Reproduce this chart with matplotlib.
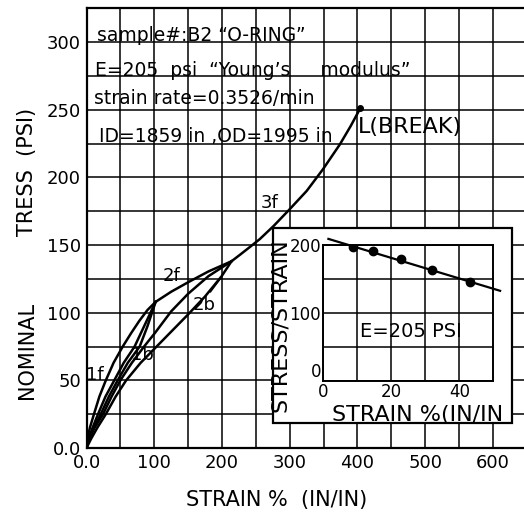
import matplotlib
matplotlib.use('Agg')
import matplotlib.pyplot as plt
import matplotlib.patches as mpatches
import numpy as np

W, H = 524, 514  # output size in pixels (dpi 100)

# ---- main hysteresis curves (strain %, nominal stress psi) ----
strain_1f = [0, 2, 5, 11, 19, 28.5, 40, 53.5, 66, 78, 90, 102]
stress_1f = [0, 8, 15, 25, 38, 50, 63, 75, 85, 94, 102, 108]
strain_1b = [0, 5, 11, 21, 33, 46, 61, 78.5, 90, 102]
stress_1b = [0, 8, 15, 25, 38, 50, 63, 75, 90, 108]
strain_2f = [0, 4, 9, 17, 28, 41, 55, 71, 86, 102, 125, 150, 180, 214]
stress_2f = [0, 8, 15, 25, 38, 50, 63, 75, 91, 108, 115.5, 122.5, 130.5, 138]
strain_2b = [0, 7, 16, 28.5, 43, 58.5, 80, 103.5, 127, 150.5, 175, 199.5, 214]
stress_2b = [0, 7, 15, 25, 38, 50, 63, 75, 87, 99, 112, 127, 138]
strain_3f = [0, 5, 12, 24.5, 37, 50, 67, 85, 101, 125, 150, 180, 214,
             227, 241, 256, 276, 299, 325, 349, 374, 390, 404]
stress_3f = [0, 8, 15, 25, 38, 50, 63, 75, 85, 101, 114, 127, 138,
             143, 148.5, 154.5, 164, 176, 190, 206, 224.4, 238, 251]
break_pt = (404, 251)

x_ticks = [0, 100, 200, 300, 400, 500, 600]
x_ticklabels = ['0.0', '100', '200', '300', '400', '500', '600']
y_ticks = [0, 50, 100, 150, 200, 250, 300]
y_ticklabels = ['0.0', '50', '100', '150', '200', '250', '300']

# ---- inset: stress/strain vs strain ----
inset_strain = [8.8, 14.7, 22.9, 32.1, 43.0]
inset_ratio = [197, 190.6, 179, 162.5, 145.4]
fit_strain = [1.5, 52]
fit_ratio = [209, 132.5]
inset_xticks = [0, 20, 40]
inset_yticks = [0, 100, 200]

notes = ['sample#:B2 \u201cO-RING\u201d',
         'E=205  psi  \u201cYoung\u2019s     modulus\u201d',
         'strain rate=0.3526/min',
         'ID=1859 in ,OD=1995 in']


def px(x, y):
    """pixel (from top-left) -> figure fraction"""
    return x / W, 1 - y / H


fig = plt.figure(figsize=(W / 100, H / 100), dpi=100)
ax = fig.add_axes([86.5 / W, 1 - 448 / H, (W - 86.5) / W, (448 - 8.3) / H])
ax.set_xlim(0, 645.8)
ax.set_ylim(0, 325)
ax.set_xticks(x_ticks)
ax.set_xticklabels(x_ticklabels)
ax.set_yticks(y_ticks)
ax.set_yticklabels(y_ticklabels)
ax.set_xticks(np.arange(50, 646, 100), minor=True)
ax.set_yticks(np.arange(25, 325, 50), minor=True)
ax.grid(which='both', color='black', lw=1.1)
ax.tick_params(which='both', length=0, labelsize=13, pad=4)
ax.spines['right'].set_visible(False)
for s in ('left', 'bottom', 'top'):
    ax.spines[s].set_linewidth(1.6)

for xs, ys in [(strain_1f, stress_1f), (strain_1b, stress_1b), (strain_2f, stress_2f),
               (strain_2b, stress_2b), (strain_3f, stress_3f)]:
    ax.plot(xs, ys, color='black', lw=1.8, zorder=3, solid_joinstyle='round')
ax.plot(*break_pt, 'o', color='black', ms=4, zorder=4)

lab = dict(fontsize=13, ha='center', va='center', zorder=5)
ax.text(13, 54, '1f', **lab)
ax.text(82, 69, '1b', **lab)
ax.text(126, 127, '2f', **lab)
ax.text(173, 106, '2b', **lab)
ax.text(270, 181, '3f', **lab)
ax.plot([183, 199.5], [115.5, 126.6], color='black', lw=1.2, zorder=3)
ax.text(401, 237, 'L(BREAK)', fontsize=16, ha='left', va='center', zorder=5)

# header notes sitting on the grid
for (xn, yn), t in zip([(15, 301), (13, 275), (11, 254), (18, 226)], notes):
    ax.text(xn, yn, t, fontsize=13.5, ha='left', va='baseline', zorder=5)

fig.text(*px(277, 500), 'STRAIN %  (IN/IN)', fontsize=15, ha='center', va='center')
fig.text(*px(27, 350), 'NOMINAL', fontsize=15, rotation=90, ha='center', va='center')
fig.text(*px(27, 172), 'TRESS  (PSI)', fontsize=15, rotation=90, ha='center', va='center')

# ---- inset ----
x0, y0 = px(272.7, 422.7)
box = mpatches.Rectangle((x0, y0), (511.7 - 272.7) / W, (422.7 - 228.3) / H,
                         transform=fig.transFigure, fc='white', ec='black', lw=1.6, zorder=1)
fig.add_artist(box)

ax2 = fig.add_axes([323.3 / W, 1 - 380.7 / H, 170 / W, 135.7 / H], zorder=2)
ax2.set_xlim(0, 50)
ax2.set_ylim(0, 200)
ax2.set_xticks(inset_xticks)
ax2.set_yticks(inset_yticks)
ax2.set_xticks([10, 30], minor=True)
ax2.set_yticks([50, 150], minor=True)
ax2.grid(which='both', color='black', lw=1.1)
ax2.tick_params(which='both', length=0, labelsize=12, pad=1.5)
ax2.get_yticklabels()[0].set_va('bottom')   # the "0" sits a little above the corner
for s in ax2.spines.values():
    s.set_linewidth(1.4)
ax2.plot(fit_strain, fit_ratio, color='black', lw=1.6, clip_on=False, zorder=3)
ax2.plot(inset_strain, inset_ratio, 'o', color='black', ms=6, zorder=4)
ax2.text(25.8, 72, 'E=205 PSI', fontsize=14, ha='center', va='center')

fig.text(*px(280, 325), 'STRESS/STRAIN', fontsize=16, rotation=90, ha='center', va='center', zorder=3)
fig.text(*px(332, 421), 'STRAIN %(IN/IN', fontsize=16, ha='left', va='baseline', zorder=3)

fig.savefig('out.png', dpi=100)
